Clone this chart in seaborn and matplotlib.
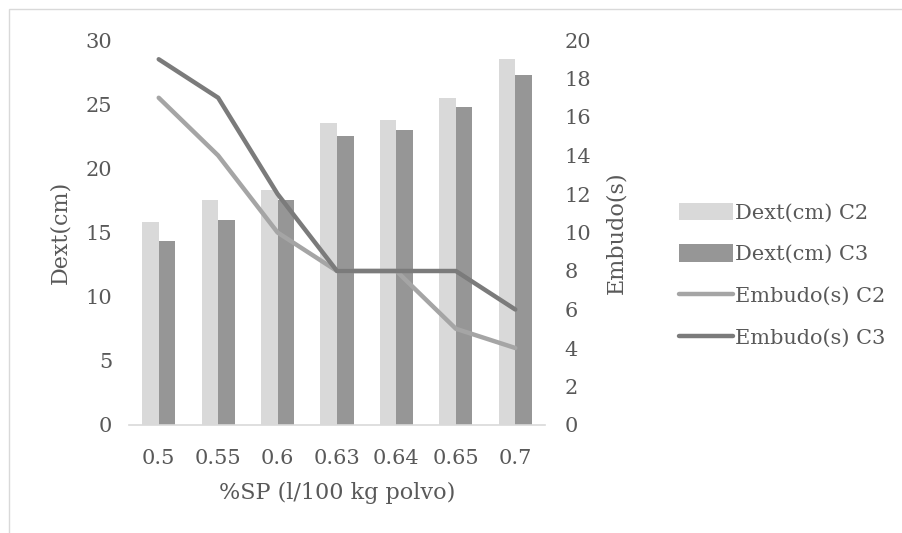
import numpy as np
import pandas as pd
import matplotlib
matplotlib.use("Agg")
import matplotlib.pyplot as plt
from matplotlib.patches import Patch, Rectangle
from matplotlib.lines import Line2D
import seaborn as sns

# data
sp_levels = ["0.5", "0.55", "0.6", "0.63", "0.64", "0.65", "0.7"]
dext_c2 = [15.8, 17.5, 18.3, 23.5, 23.8, 25.5, 28.5]
dext_c3 = [14.3, 16.0, 17.5, 22.5, 23.0, 24.8, 27.3]
embudo_c2 = [17, 14, 10, 8, 8, 5, 4]
embudo_c3 = [19, 17, 12, 8, 8, 8, 6]

text_color = "#595959"
bar_colors = ["#D9D9D9", "#969696"]
line_c2 = "#A5A5A5"
line_c3 = "#7B7B7B"

sns.set_style("white")
plt.rcParams["font.family"] = ["DejaVu Serif"]
plt.rcParams["font.size"] = 15
plt.rcParams["text.color"] = text_color
plt.rcParams["axes.labelcolor"] = text_color
plt.rcParams["xtick.color"] = text_color
plt.rcParams["ytick.color"] = text_color

bars = pd.DataFrame({
    "sp": sp_levels * 2,
    "dext": dext_c2 + dext_c3,
    "serie": ["Dext(cm) C2"] * len(sp_levels) + ["Dext(cm) C3"] * len(sp_levels),
})

fig = plt.figure(figsize=(9.03, 5.33), dpi=100)
ax = fig.add_axes([129 / 903, 1 - 425 / 533, 416 / 903, 385 / 533])

sns.barplot(data=bars, x="sp", y="dext", hue="serie", order=sp_levels,
            palette=bar_colors, width=0.56, gap=0, saturation=1,
            linewidth=0, legend=False, ax=ax)
ax.set_ylim(0, 30)
ax.set_yticks(range(0, 31, 5))
ax.set_xlim(-0.5, len(sp_levels) - 0.5)
ax.set_xlabel("%SP (l/100 kg polvo)", labelpad=10, fontsize=16)
ax.set_ylabel("Dext(cm)", labelpad=10, fontsize=16)
ax.tick_params(axis="both", length=0, labelsize=15)
ax.tick_params(axis="x", pad=17)
ax.tick_params(axis="y", pad=12)
for side in ["top", "right", "left"]:
    ax.spines[side].set_visible(False)
ax.spines["bottom"].set_color("#D9D9D9")
ax.spines["bottom"].set_linewidth(1.2)

ax2 = ax.twinx()
xpos = np.arange(len(sp_levels))
sns.lineplot(x=xpos, y=embudo_c2, color=line_c2, linewidth=3.2, ax=ax2)
sns.lineplot(x=xpos, y=embudo_c3, color=line_c3, linewidth=3.2, ax=ax2)
ax2.set_ylim(0, 20)
ax2.set_yticks(range(0, 21, 2))
ax2.set_ylabel("Embudo(s)", labelpad=10, fontsize=16)
ax2.tick_params(axis="y", length=0, labelsize=15, pad=14)
for side in ["top", "right", "left", "bottom"]:
    ax2.spines[side].set_visible(False)

handles = [
    Patch(facecolor=bar_colors[0], edgecolor="none", label="Dext(cm) C2"),
    Patch(facecolor=bar_colors[1], edgecolor="none", label="Dext(cm) C3"),
    Line2D([], [], color=line_c2, linewidth=3.2, label="Embudo(s) C2"),
    Line2D([], [], color=line_c3, linewidth=3.2, label="Embudo(s) C3"),
]
fig.legend(handles=handles, loc="center left", bbox_to_anchor=(660 / 903, 1 - 275 / 533),
           frameon=False, fontsize=15, handlelength=2.6, handleheight=0.9,
           handletextpad=0.1, labelspacing=1.05, labelcolor=text_color)

# outer chart border
fig.patches.append(Rectangle((9 / 903, -0.1), 1.2, 1.1 - 9 / 533,
                             transform=fig.transFigure, fill=False,
                             edgecolor="#D9D9D9", linewidth=1))

fig.savefig("out.png", dpi=100)
